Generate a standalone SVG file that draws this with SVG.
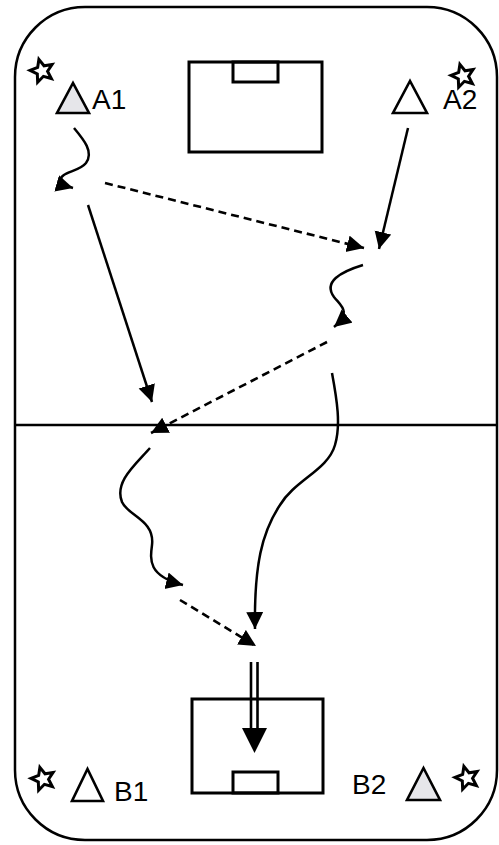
<svg xmlns="http://www.w3.org/2000/svg" width="499" height="845" viewBox="0 0 499 845">
<style>
.ln{fill:none;stroke:#000;stroke-width:2.5}
.ds{fill:none;stroke:#000;stroke-width:2.6;stroke-dasharray:8,5}
.bx{fill:none;stroke:#000;stroke-width:3}
.tri{stroke:#000;stroke-width:2.6;stroke-linejoin:miter}
.lbl{font-family:"Liberation Sans",Arial,sans-serif;font-size:28px;fill:#000}
</style>
<defs>
<marker id="ah" markerUnits="userSpaceOnUse" markerWidth="20" markerHeight="20" refX="17" refY="8.5" orient="auto">
<path d="M0,0 L17,8.5 L0,17 z" fill="#000"/>
</marker>
<path id="star" d="M0,-12 L3.3,-4.5 L11.4,-3.7 L5.3,1.7 L7.1,9.7 L0,5.5 L-7.1,9.7 L-5.3,1.7 L-11.4,-3.7 L-3.3,-4.5 Z" fill="#fff" stroke="#000" stroke-width="3" stroke-linejoin="miter"/>
</defs>
<rect x="15" y="7" width="482" height="833" rx="70" ry="70" fill="#fff" stroke="#000" stroke-width="2.5"/>
<line x1="15" y1="425" x2="497" y2="425" stroke="#000" stroke-width="2.5"/>
<g id="goal-top">
<rect class="bx" x="189" y="62" width="133" height="90"/>
<rect class="bx" x="233" y="62" width="45" height="20"/>
</g>
<g id="goal-bottom">
<rect class="bx" x="192" y="699" width="131" height="94"/>
<rect class="bx" x="233" y="772" width="45" height="21"/>
</g>
<g id="A1">
<use href="#star" transform="translate(42,71) rotate(-15)"/>
<polygon class="tri" points="57,113 89,113 73,83" fill="#e6e6ea"/>
<text class="lbl" x="92" y="109">A1</text>
</g>
<g id="A2">
<use href="#star" transform="translate(463,76) rotate(-15)"/>
<polygon class="tri" points="393,113 427,113 410,81" fill="#fff"/>
<text class="lbl" x="443" y="109">A2</text>
</g>
<g id="B1">
<use href="#star" transform="translate(43,779) rotate(-15)"/>
<polygon class="tri" points="72,801 103,801 87.5,769" fill="#fff"/>
<text class="lbl" x="114" y="801">B1</text>
</g>
<g id="B2">
<use href="#star" transform="translate(467,778) rotate(-15)"/>
<polygon class="tri" points="407,800 440,800 423.5,768" fill="#e6e6ea"/>
<text class="lbl" x="352" y="794">B2</text>
</g>
<g id="connectors">
<path class="ln" d="M74,128 C84,140 94,152 86,163 C79,172 60,172 61,180 C62,184 66,186 73,188" marker-end="url(#ah)"/>
<line class="ds" x1="105" y1="183" x2="364" y2="248" marker-end="url(#ah)"/>
<line class="ln" x1="88" y1="205" x2="152" y2="402" marker-end="url(#ah)"/>
<line class="ln" x1="408" y1="128" x2="379" y2="249" marker-end="url(#ah)"/>
<path class="ln" d="M363,265 C340,272 323,282 334,297 C341,306 352,312 334,327" marker-end="url(#ah)"/>
<line class="ds" x1="327" y1="342" x2="151" y2="433" marker-end="url(#ah)"/>
<path class="ln" d="M150,448 C135,465 114,482 122,502 C128,516 155,520 152,545 C150,560 148,576 183,585" marker-end="url(#ah)"/>
<line class="ds" x1="180" y1="600" x2="256" y2="646" marker-end="url(#ah)"/>
<path class="ln" d="M332,373 C337,400 341,425 335,445 C328,470 295,480 280,505 C262,532 254,565 255,629" marker-end="url(#ah)"/>
<line x1="251" y1="662" x2="251" y2="730" stroke="#000" stroke-width="2.6"/>
<line x1="257.5" y1="662" x2="257.5" y2="730" stroke="#000" stroke-width="2.6"/>
<polygon points="242,728 267,728 254.5,753" fill="#000"/>
</g>
</svg>
